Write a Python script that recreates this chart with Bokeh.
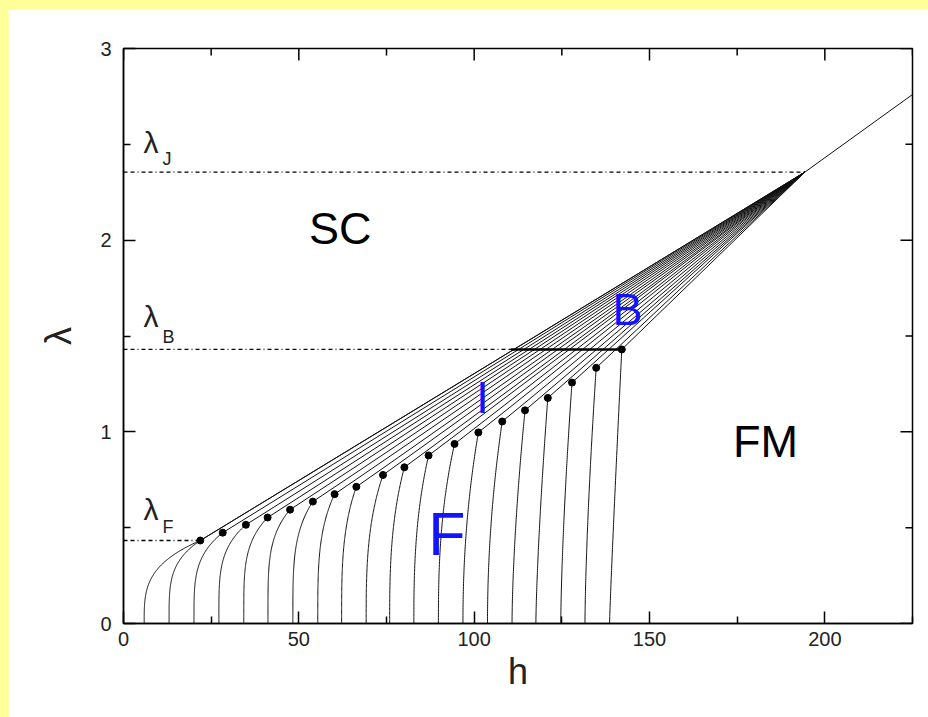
import numpy as np
from bokeh.plotting import figure
from bokeh.models import Range1d, FixedTicker, ColumnDataSource, Spacer
from bokeh.layouts import column, row
from bokeh.embed import file_html
from bokeh.resources import INLINE
from bokeh.core.properties import value, field

# ---------------- data ----------------
x_range = [0, 225]
y_range = [0, 3]
x_ticks = [0, 50, 100, 150, 200]
x_minor = [25, 75, 125, 175, 225]
y_ticks = [0, 1, 2, 3]
y_minor = [0.5, 1.5, 2.5]

# foot of each curve on the h axis (lambda = 0)
base_h = [5.9, 13.0, 20.1, 27.2, 34.3, 41.2, 48.3, 55.4, 62.2, 69.2,
          75.9, 82.8, 89.8, 96.8, 103.8, 110.8, 117.6, 124.7, 131.6, 138.6]
# bend of each curve below its dot (larger = sharper knee)
bend = [3.4, 4.0, 4.0, 4.2, 4.3, 4.4, 4.0, 3.6, 3.3, 3.0,
        2.8, 2.6, 2.5, 2.1, 2.0, 1.6, 1.4, 1.5, 1.5, 1.1]
# index of the dot each curve ends at
curve_dot = [0, 0, 1, 2, 3, 4, 5, 6, 7, 8, 9, 10, 11, 12, 13, 14, 15, 16, 17, 18]
# dots (F / I boundary)
dot_h = [21.9, 28.3, 34.9, 41.1, 47.5, 54.0, 60.2, 66.4, 74.0, 80.1,
         87.0, 94.4, 101.2, 108.0, 114.5, 121.0, 127.9, 134.8, 142.1]
dot_lam = [0.433, 0.474, 0.515, 0.553, 0.594, 0.636, 0.675, 0.713, 0.775, 0.815,
           0.877, 0.937, 0.997, 1.054, 1.112, 1.177, 1.257, 1.334, 1.43]
# all curves meet here, then a single line continues
merge_h, merge_lam = 194.3, 2.355
tail_h, tail_lam = 225.0, 2.76

# horizontal reference levels
level_sub = ["J", "B", "F"]
level_lam = [2.355, 1.43, 0.433]
level_end_h = [194.3, 110.5, 21.9]
# B boundary segment on lambda_B
b_seg_h = [110.5, 142.1]

# level labels
lab_h = [5.7, 5.7, 5.7]
lab_lam = [2.51, 1.60, 0.595]
sub_h = [11.1, 11.1, 11.1]
sub_lam = [2.425, 1.495, 0.505]

# region labels
reg_text = ["SC", "FM", "B", "I", "F"]
reg_h = [61.8, 183.1, 143.7, 102.4, 92.2]
reg_lam = [2.06, 0.95, 1.636, 1.18, 0.465]
reg_color = ["black", "black", "#1414ff", "#1414ff", "#1414ff"]
reg_size = ["45px", "45px", "45px", "45px", "61px"]

FONT = "Liberation Sans"

# ---------------- figure ----------------
p = figure(width=920, height=708, x_range=Range1d(*x_range), y_range=Range1d(*y_range),
           output_backend="svg", toolbar_location=None,
           min_border_left=115, min_border_right=16, min_border_top=39, min_border_bottom=94,
           background_fill_color="white", border_fill_color="white")
p.grid.visible = False
p.outline_line_color = "black"
p.outline_line_width = 1.5

bottom = p.below[0]
left = p.left[0]
bottom.ticker = FixedTicker(ticks=x_ticks, minor_ticks=x_minor)
left.ticker = FixedTicker(ticks=y_ticks, minor_ticks=y_minor)

for ax in [bottom, left]:
    ax.axis_line_color = "black"
    ax.axis_line_width = 1.5
    ax.major_tick_in = 12
    ax.major_tick_out = 0
    ax.minor_tick_in = 7
    ax.minor_tick_out = 0
    ax.major_tick_line_width = 1.5
    ax.minor_tick_line_width = 1.5
    ax.major_tick_line_color = "black"
    ax.minor_tick_line_color = "black"
    ax.major_label_text_font = FONT
    ax.major_label_text_font_size = "20px"
    ax.major_label_text_color = "#222222"
    ax.axis_label_text_font = FONT
    ax.axis_label_text_font_style = "normal"
    ax.axis_label_text_font_size = "36px"
    ax.axis_label_text_color = "#222222"

bottom.major_label_standoff = 8
left.major_label_standoff = 12
bottom.axis_label = "h"
left.axis_label = "λ"
bottom.axis_label_standoff = 2
left.axis_label_standoff = 18

# mirrored ticks on top and right edges
n_xt, n_xm = len(x_ticks), len(x_minor)
n_yt, n_ym = len(y_ticks), len(y_minor)
p.ray(x=x_ticks, y=[y_range[1]] * n_xt, length=12, length_units="screen",
      angle=-np.pi / 2, line_color="black", line_width=1.5)
p.ray(x=x_minor, y=[y_range[1]] * n_xm, length=7, length_units="screen",
      angle=-np.pi / 2, line_color="black", line_width=1.5)
p.ray(x=[x_range[1]] * n_yt, y=y_ticks, length=12, length_units="screen",
      angle=np.pi, line_color="black", line_width=1.5)
p.ray(x=[x_range[1]] * n_ym, y=y_minor, length=7, length_units="screen",
      angle=np.pi, line_color="black", line_width=1.5)

# ---------------- curves ----------------
xs, ys = [], []
u = np.linspace(0.0, 1.0, 120)
for i in range(len(base_h)):
    j = curve_dot[i]
    hh = base_h[i] + (dot_h[j] - base_h[i]) * u ** bend[i]
    ll = u * dot_lam[j]
    xs.append(list(hh) + [merge_h])
    ys.append(list(ll) + [merge_lam])
p.multi_line(xs=xs, ys=ys, line_color="#111111", line_width=1)
p.line([merge_h, tail_h], [merge_lam, tail_lam], line_color="#111111", line_width=1)

# reference levels
for k in range(len(level_lam)):
    p.line([0, level_end_h[k]], [level_lam[k], level_lam[k]], line_color="black",
           line_width=1.4, line_dash="4 3 4 3 1 3")
p.line(b_seg_h, [level_lam[1], level_lam[1]], line_color="black", line_width=2.5)

# dots
p.scatter(dot_h, dot_lam, size=7, color="black")

# level labels
p.text(x=lab_h, y=lab_lam, text=["λ"] * 3, text_font=value(FONT), text_font_size="30px",
       text_color="#222222", text_align="left", text_baseline="alphabetic")
p.text(x=sub_h, y=sub_lam, text=level_sub, text_font=value(FONT), text_font_size="18px",
       text_color="#222222", text_align="left", text_baseline="alphabetic")

# region labels
src = ColumnDataSource(dict(x=reg_h, y=reg_lam, t=reg_text, c=reg_color, s=reg_size))
p.text(x="x", y="y", text="t", source=src, text_font=value(FONT), text_font_size=field("s"),
       text_color="c", text_align="center", text_baseline="alphabetic")

YEL = "#ffff99"
layout = column(
    Spacer(width=928, height=9, styles={"background-color": YEL}),
    row(Spacer(width=8, height=708, styles={"background-color": YEL}), p),
    styles={"background-color": YEL},
)

open("out.html", "w").write(file_html(layout, INLINE))
